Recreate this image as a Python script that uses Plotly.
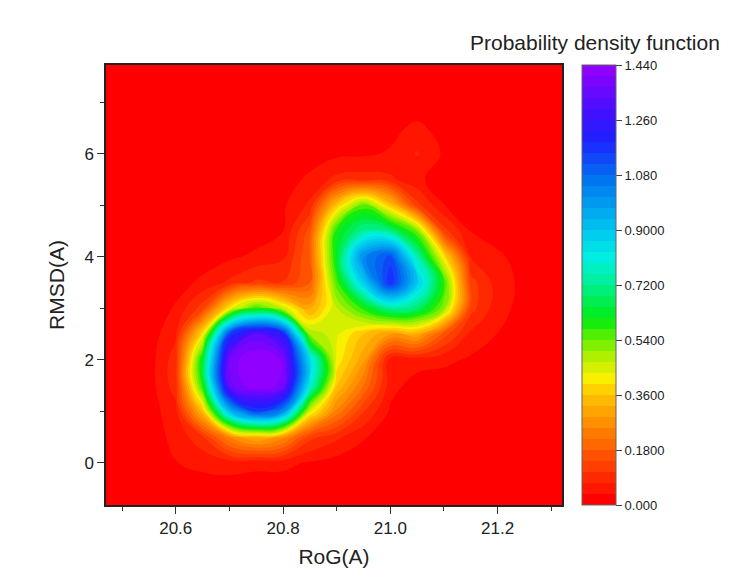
import plotly.graph_objects as go

# RoG (x) grid, RMSD (y) grid, estimated probability density on that grid
rog = [20.45, 20.50, 20.55, 20.60, 20.65, 20.70, 20.75, 20.80, 20.85, 20.90,
       20.95, 21.00, 21.05, 21.10, 21.15, 21.20, 21.25, 21.30, 21.35]
rmsd = [-1.0, -0.5, 0.0, 0.5, 1.0, 1.5, 2.0, 2.5, 3.0, 3.5,
        4.0, 4.5, 5.0, 5.5, 6.0, 6.5, 7.0, 7.5, 8.0]

density = [
    [0, 0, 0, 0.005, 0.008, 0.008, 0.008, 0.006, 0.004, 0, 0, 0, 0, 0, 0, 0, 0, 0, 0],
    [0, 0, 0.008, 0.015, 0.02, 0.02, 0.018, 0.016, 0.012, 0.006, 0, 0, 0, 0, 0, 0, 0, 0, 0],
    [0, 0.008, 0.015, 0.035, 0.045, 0.05, 0.045, 0.045, 0.032, 0.02, 0.01, 0, 0, 0, 0, 0, 0, 0, 0],
    [0, 0.008, 0.02, 0.045, 0.10, 0.25, 0.33, 0.27, 0.12, 0.08, 0.04, 0.01, 0, 0, 0, 0, 0, 0, 0],
    [0, 0.008, 0.017, 0.06, 0.344, 0.92, 1.15, 1.02, 0.44, 0.24, 0.11, 0.03, 0.01, 0, 0, 0, 0, 0, 0],
    [0, 0.01, 0.018, 0.09, 0.59, 1.355, 1.44, 1.39, 0.81, 0.36, 0.215, 0.05, 0.02, 0.015, 0.005, 0, 0, 0, 0],
    [0, 0.01, 0.018, 0.092, 0.63, 1.38, 1.445, 1.40, 0.857, 0.42, 0.30, 0.05, 0.052, 0.045, 0.03, 0.01, 0, 0, 0],
    [0, 0.008, 0.016, 0.065, 0.40, 1.15, 1.34, 1.22, 0.503, 0.44, 0.36, 0.29, 0.32, 0.16, 0.063, 0.035, 0.01, 0, 0],
    [0, 0.005, 0.012, 0.04, 0.127, 0.41, 0.58, 0.46, 0.31, 0.465, 0.59, 0.73, 0.688, 0.514, 0.123, 0.05, 0.022, 0.005, 0],
    [0, 0, 0.005, 0.022, 0.043, 0.08, 0.116, 0.11, 0.18, 0.56, 0.883, 1.19, 0.895, 0.579, 0.124, 0.055, 0.025, 0.005, 0],
    [0, 0, 0, 0.01, 0.019, 0.029, 0.045, 0.064, 0.18, 0.629, 1.03, 1.13, 0.755, 0.40, 0.07, 0.045, 0.015, 0, 0],
    [0, 0, 0, 0, 0.005, 0.01, 0.015, 0.036, 0.16, 0.60, 0.73, 0.71, 0.53, 0.123, 0.035, 0.013, 0, 0, 0],
    [0, 0, 0, 0, 0, 0.005, 0.01, 0.03, 0.08, 0.36, 0.55, 0.36, 0.12, 0.037, 0.016, 0, 0, 0, 0],
    [0, 0, 0, 0, 0, 0, 0.005, 0.016, 0.045, 0.083, 0.09, 0.08, 0.045, 0.015, 0.005, 0, 0, 0, 0],
    [0, 0, 0, 0, 0, 0, 0, 0.005, 0.015, 0.027, 0.03, 0.04, 0.075, 0.03, 0.005, 0, 0, 0, 0],
    [0, 0, 0, 0, 0, 0, 0, 0, 0, 0.005, 0.01, 0.025, 0.045, 0.02, 0, 0, 0, 0, 0],
    [0, 0, 0, 0, 0, 0, 0, 0, 0, 0, 0, 0.005, 0.01, 0.005, 0, 0, 0, 0, 0],
    [0] * 19,
    [0] * 19,
]

cbar_ticks = [0.0, 0.18, 0.36, 0.54, 0.72, 0.90, 1.08, 1.26, 1.44]
cbar_labels = ["0.000", "0.1800", "0.3600", "0.5400", "0.7200", "0.9000", "1.080", "1.260", "1.440"]

# rainbow palette stops (fraction of the 0..1.44 range, colour)
rainbow_stops = [
    (0.0, "#FF0000"),
    (0.125, "#FF6400"),
    (0.2, "#FFA000"),
    (0.25, "#FFC800"),
    (0.278, "#FFF000"),
    (0.33, "#B4F000"),
    (0.375, "#64F000"),
    (0.42, "#00EC10"),
    (0.5, "#00F090"),
    (0.56, "#00F0E0"),
    (0.625, "#00C8F0"),
    (0.75, "#0070F0"),
    (0.84, "#2020FF"),
    (0.9, "#4010FF"),
    (1.0, "#9000FF"),
]
# plotly colours each filled band by its centre value: shift stops half a band
half_band = 0.5 / 40
colorscale = [[0.0, rainbow_stops[0][1]]]
colorscale += [[half_band + p * (1 - 2 * half_band), c] for p, c in rainbow_stops]
colorscale += [[1.0, rainbow_stops[-1][1]]]

FONT = "Liberation Sans, Arial, sans-serif"

fig = go.Figure(
    go.Contour(
        x=rog, y=rmsd, z=density,
        zmin=0, zmax=1.44,
        colorscale=colorscale,
        contours=dict(start=0, end=1.44, size=0.036, coloring="fill", showlines=False),
        line=dict(smoothing=1.3, width=0),
        colorbar=dict(
            x=1.044, xanchor="left", xpad=0,
            y=0.5, yanchor="middle", len=1.0, lenmode="fraction", ypad=0,
            thickness=34, outlinewidth=1, outlinecolor="#666",
            tickvals=cbar_ticks, ticktext=cbar_labels,
            ticks="outside", ticklen=6, tickcolor="#444",
            tickprefix="\u00a0",
            tickfont=dict(family=FONT, size=13, color="#222"),
        ),
        hoverinfo="skip",
    )
)

fig.add_annotation(
    text="Probability density function",
    xref="paper", yref="paper", x=1.072, y=1.05,
    xanchor="center", yanchor="middle", showarrow=False,
    font=dict(family=FONT, size=21, color="#222"),
)

fig.update_layout(
    width=756, height=579,
    margin=dict(l=106, r=194, t=65, b=74),
    paper_bgcolor="white", plot_bgcolor="#FF0000",
    font=dict(family=FONT, color="#222"),
    showlegend=False,
)

fig.update_xaxes(
    range=[20.47, 21.32], dtick=0.2, tick0=20.6, tickformat=".1f",
    ticks="outside", ticklen=7, tickwidth=1.2, tickcolor="#333",
    minor=dict(dtick=0.1, ticks="outside", ticklen=4, tickcolor="#333"),
    showline=True, linecolor="#222", linewidth=1.5, mirror=True,
    showgrid=False, zeroline=False,
    tickfont=dict(family=FONT, size=17, color="#222"),
    title=dict(text="RoG(A)", font=dict(family=FONT, size=21, color="#222"), standoff=12),
)
fig.update_yaxes(
    range=[-0.815, 7.72], dtick=2, tick0=0,
    ticks="outside", ticklen=7, tickwidth=1.2, tickcolor="#333",
    minor=dict(dtick=1, ticks="outside", ticklen=4, tickcolor="#333"),
    showline=True, linecolor="#222", linewidth=1.5, mirror=True,
    showgrid=False, zeroline=False,
    tickfont=dict(family=FONT, size=17, color="#222"),
    title=dict(text="RMSD(A)", font=dict(family=FONT, size=21, color="#222"), standoff=14),
)

fig.write_html("out.html")
